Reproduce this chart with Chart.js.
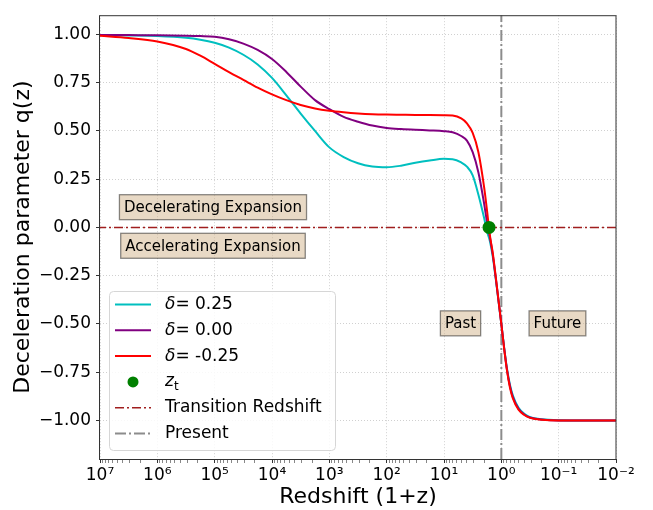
<!DOCTYPE html>
<html>
<head>
<meta charset="utf-8">
<script src="https://cdn.jsdelivr.net/npm/chart.js@4.4.1/dist/chart.umd.min.js"></script>
<style>
  html, body { margin: 0; padding: 0; background: #fff; }
</style>
</head>
<body>
<canvas id="qChart" width="653" height="510"></canvas>
<script>
const FONT = '"DejaVu Sans", sans-serif';

// 1+z sample points (x axis runs 10^7 -> 10^-2)
let onePlusZ = [1e7, 3.16e6, 1e6, 3.16e5, 1.78e5, 1e5, 5.62e4, 3.16e4, 1.78e4, 1e4,
    5623, 3162, 1778, 1000, 562, 316, 178, 100, 56.2, 31.6,
    17.8, 10, 7.08, 5.01, 3.98, 3.16, 2.51, 2.0, 1.78, 1.585,
    1.413, 1.259, 1.122, 1, 0.891, 0.794, 0.708, 0.631, 0.501, 0.398,
    0.316, 0.2, 0.1, 0.0316, 0.01];

let qDeltaPos = [0.997, 0.995, 0.992, 0.983, 0.973, 0.957, 0.932, 0.895, 0.845, 0.775,
    0.685, 0.59, 0.50, 0.415, 0.365, 0.333, 0.316, 0.312, 0.32, 0.335,
    0.347, 0.356, 0.354, 0.337, 0.315, 0.27, 0.17, 0.05, -0.02, -0.07,
    -0.15, -0.26, -0.38, -0.50, -0.625, -0.735, -0.815, -0.87, -0.935, -0.966,
    -0.983, -0.994, -0.999, -1, -1];

let qDeltaZero = [0.998, 0.997, 0.996, 0.994, 0.992, 0.988, 0.975, 0.953, 0.92, 0.873,
    0.806, 0.73, 0.66, 0.613, 0.573, 0.548, 0.528, 0.516, 0.51, 0.506,
    0.503, 0.499, 0.493, 0.474, 0.45, 0.39, 0.285, 0.125, 0.03, -0.05,
    -0.14, -0.255, -0.378, -0.50, -0.628, -0.74, -0.822, -0.878, -0.94, -0.969,
    -0.985, -0.995, -1, -1, -1];

let qDeltaNeg = [0.993, 0.982, 0.964, 0.925, 0.89, 0.848, 0.805, 0.765, 0.725, 0.69,
    0.66, 0.635, 0.617, 0.605, 0.597, 0.591, 0.587, 0.585, 0.584, 0.583,
    0.583, 0.582, 0.58, 0.565, 0.54, 0.49, 0.39, 0.21, 0.09, -0.04,
    -0.13, -0.25, -0.375, -0.50, -0.63, -0.745, -0.83, -0.885, -0.945, -0.972,
    -0.987, -0.996, -1, -1, -1];

let transitionX = [1.64];
let transitionQ = [0];
let presentX = 1;
let xRange = [0.01, 1e7];
let yRange = [-1.2, 1.1];

let decades = [7, 6, 5, 4, 3, 2, 1, 0, -1, -2];
let yTicks = [-1, -0.75, -0.5, -0.25, 0, 0.25, 0.5, 0.75, 1];

let notes = [
    { text: 'Decelerating Expansion', x: 1.07e5, y: 0.105 },
    { text: 'Accelerating Expansion', x: 1.07e5, y: -0.095 },
    { text: 'Past', x: 5.15, y: -0.497 },
    { text: 'Future', x: 0.105, y: -0.497 }
];

let supMap = { '-': '\u207B', '0': '\u2070', '1': '\u00B9', '2': '\u00B2', '3': '\u00B3', '4': '\u2074',
    '5': '\u2075', '6': '\u2076', '7': '\u2077', '8': '\u2078', '9': '\u2079' };
let toSup = (n) => String(n).split('').map(c => supMap[c]).join('');

let isDecade = (v) => Math.abs(Math.log10(v) - Math.round(Math.log10(v))) < 1e-6;

// decade ticks plus the 2..9 minor marks between them
let xTickValues = [];
decades.slice().reverse().forEach(d => {
    xTickValues.push(Math.pow(10, d));
    if (d < 7) {
        for (let k = 2; k <= 9; k++) xTickValues.push(k * Math.pow(10, d));
    }
});

let toPoints = (ys) => onePlusZ.map((z, i) => ({ x: z, y: ys[i] }));

const overlay = {
    id: 'overlay',
    afterDatasetsDraw(chart) {
        const { ctx, chartArea: a, scales } = chart;
        ctx.save();

        // text boxes
        ctx.font = '15px ' + FONT;
        ctx.textAlign = 'center';
        ctx.textBaseline = 'middle';
        notes.forEach(n => {
            const px = scales.x.getPixelForValue(n.x);
            const py = scales.y.getPixelForValue(n.y);
            const w = ctx.measureText(n.text).width + 9;
            const h = 25;
            ctx.fillStyle = 'rgba(210,180,140,0.5)';
            ctx.fillRect(px - w / 2, py - h / 2, w, h);
            ctx.strokeStyle = 'rgba(0,0,0,0.45)';
            ctx.lineWidth = 1.3;
            ctx.strokeRect(px - w / 2, py - h / 2, w, h);
            ctx.fillStyle = '#000';
            ctx.fillText(n.text, px, py + 1);
        });

        // frame
        ctx.strokeStyle = '#333';
        ctx.lineWidth = 1;
        ctx.strokeRect(a.left - 0.5, a.top + 0.5, a.right - a.left + 0.5, a.bottom - a.top);

        // legend
        const lx = 109, ly = 291, lw = 226, lh = 159;
        ctx.beginPath();
        ctx.roundRect(lx + 0.5, ly + 0.5, lw, lh, 4);
        ctx.fillStyle = 'rgba(255,255,255,0.85)';
        ctx.fill();
        ctx.strokeStyle = '#d6d6d6';
        ctx.lineWidth = 1;
        ctx.stroke();

        ctx.textAlign = 'left';
        ctx.textBaseline = 'middle';
        chart.data.datasets.forEach((ds, i) => {
            const ry = 304.5 + i * 25.8;
            if (ds.showLine === false) {
                ctx.beginPath();
                ctx.arc(133, ry, 5.5, 0, Math.PI * 2);
                ctx.fillStyle = ds.backgroundColor;
                ctx.fill();
            } else {
                ctx.beginPath();
                ctx.setLineDash(ds.borderDash || []);
                ctx.strokeStyle = ds.borderColor;
                ctx.lineWidth = ds.borderWidth;
                ctx.moveTo(115, ry);
                ctx.lineTo(151, ry);
                ctx.stroke();
                ctx.setLineDash([]);
            }
            ctx.fillStyle = '#000';
            let tx = 165;
            if (ds.label.startsWith('δ')) {
                ctx.font = 'italic 17px ' + FONT;
                ctx.fillText('δ', tx, ry);
                tx += ctx.measureText('δ').width;
                ctx.font = '17px ' + FONT;
                ctx.fillText(ds.label.slice(1), tx, ry);
            } else if (ds.label === 'z_t') {
                ctx.font = 'italic 17px ' + FONT;
                ctx.fillText('z', tx, ry);
                tx += ctx.measureText('z').width;
                ctx.font = '12px ' + FONT;
                ctx.fillText('t', tx, ry + 5);
            } else {
                ctx.font = '17px ' + FONT;
                ctx.fillText(ds.label, tx, ry);
            }
        });
        ctx.restore();
    }
};

const curve = (label, color, ys, order) => ({
    label: label,
    data: toPoints(ys),
    borderColor: color,
    backgroundColor: color,
    borderWidth: 2,
    pointRadius: 0,
    fill: false,
    cubicInterpolationMode: 'monotone',
    order: order
});

const ctx = document.getElementById('qChart');
const qChart = new Chart(ctx, {
    type: 'line',
    data: {
        datasets: [
            curve('δ= 0.25', '#00bfbf', qDeltaPos, 3),
            curve('δ= 0.00', '#800080', qDeltaZero, 2),
            curve('δ= -0.25', '#ff0000', qDeltaNeg, 1),
            {
                label: 'z_t',
                data: transitionX.map((z, i) => ({ x: z, y: transitionQ[i] })),
                showLine: false,
                pointRadius: 6.5,
                pointHoverRadius: 6.5,
                borderWidth: 0,
                backgroundColor: '#008000',
                borderColor: '#008000',
                order: 0
            },
            {
                label: 'Transition Redshift',
                data: xRange.map(z => ({ x: z, y: transitionQ[0] })),
                borderColor: '#a01e1e',
                borderWidth: 1.6,
                borderDash: [9, 3, 2, 3],
                pointRadius: 0,
                order: 4
            },
            {
                label: 'Present',
                data: yRange.map(q => ({ x: presentX, y: q })),
                borderColor: '#8c8c8c',
                borderWidth: 2,
                borderDash: [11, 3, 2, 3],
                pointRadius: 0,
                order: 5
            }
        ]
    },
    options: {
        responsive: false,
        devicePixelRatio: 1,
        animation: false,
        layout: { padding: { top: 12, right: 37, left: 0, bottom: 0 } },
        plugins: {
            legend: { display: false },
            tooltip: { enabled: false }
        },
        scales: {
            x: {
                type: 'logarithmic',
                reverse: true,
                min: xRange[0],
                max: xRange[1],
                afterBuildTicks: (s) => {
                    s.ticks = xTickValues.map(v => ({ value: v, major: isDecade(v) }));
                },
                afterFit: (s) => { s.height = 51; },
                ticks: {
                    autoSkip: false,
                    maxRotation: 0,
                    padding: 2,
                    color: '#000',
                    font: { family: FONT, size: 17 },
                    callback: (v) => isDecade(v) ? '10' + toSup(Math.round(Math.log10(v))) : ''
                },
                grid: {
                    color: (c) => c.tick && c.tick.major ? '#d0d0d0' : 'rgba(0,0,0,0)',
                    tickLength: 4,
                    tickColor: (c) => c.tick && c.tick.major ? '#333' : '#888'
                },
                border: { display: false, dash: [1, 2] },
                title: {
                    display: true,
                    text: 'Redshift (1+z)',
                    color: '#000',
                    font: { family: FONT, size: 22 },
                    padding: { top: 0, bottom: 0 }
                }
            },
            y: {
                min: yRange[0],
                max: yRange[1],
                afterBuildTicks: (s) => {
                    s.ticks = yTicks.map(v => ({ value: v }));
                },
                afterFit: (s) => { s.width = 100; },
                ticks: {
                    padding: 5,
                    color: '#000',
                    font: { family: FONT, size: 17 },
                    callback: (v) => (v < 0 ? '\u2212' : '') + Math.abs(v).toFixed(2)
                },
                grid: { color: '#d0d0d0', tickLength: 4, tickColor: '#333' },
                border: { display: false, dash: [1, 2] },
                title: {
                    display: true,
                    text: 'Deceleration parameter q(z)',
                    color: '#000',
                    font: { family: FONT, size: 22 },
                    padding: { top: 10, bottom: 0 }
                }
            }
        }
    },
    plugins: [overlay]
});
</script>
</body>
</html>
